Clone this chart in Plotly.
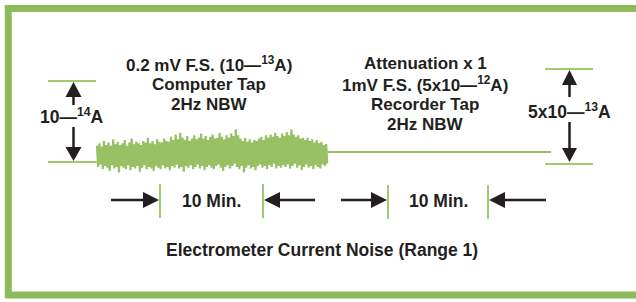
import numpy as np
import plotly.graph_objects as go

W, H = 636, 302

# ---------------- data ----------------
# Computer-tap record: upper / lower excursions of the noise band
# (current, in units of 1e-15 A), left part of the record
noise_duration_min = 22.35
noise_upper = [
    2.0, 2.3, 1.9, 2.6, 2.1, 2.4, 2.0, 2.8, 2.2, 2.5,
    2.1, 2.3, 2.7, 2.0, 2.4, 2.9, 2.2, 2.5, 2.3, 2.1,
    2.6, 2.4, 3.0, 2.3, 2.6, 2.2, 2.8, 2.5, 2.4, 2.9,
    2.6, 2.5, 3.1, 2.7, 3.4, 2.8, 3.6, 3.0, 2.7, 3.2,
    2.6, 2.9, 3.3, 2.8, 3.0, 3.5, 2.9, 3.2, 2.7, 3.1,
    3.4, 2.9, 3.0, 3.6, 3.1, 2.8, 3.3, 3.0, 3.5, 3.2,
    4.0, 3.3, 2.9, 2.6, 3.0, 2.5, 2.8, 2.4, 2.7, 2.6,
    2.9, 3.1, 2.7, 3.3, 3.0, 3.4, 3.1, 3.6, 3.2, 3.0,
    3.5, 3.2, 3.7, 3.3, 4.0, 3.4, 3.1, 3.3, 2.9, 3.0,
    2.7, 3.0, 2.6, 2.8, 2.4, 2.7, 2.3, 2.5, 2.1, 2.2,
]
noise_lower = [
    -0.6, -0.3, -0.9, -0.5, -0.7, -1.1, -0.4, -0.8, -0.6, -1.3,
    -0.5, -0.7, -0.9, -0.4, -1.0, -0.6, -0.8, -0.5, -1.2, -0.7,
    -0.4, -0.9, -0.6, -0.8, -1.1, -0.5, -0.7, -0.9, -0.4, -0.8,
    -0.6, -1.0, -0.5, -0.7, -0.3, -0.8, -0.6, -1.2, -0.5, -0.7,
    -0.4, -0.9, -0.6, -0.3, -0.8, -0.5, -1.0, -0.6, -0.4, -0.7,
    -0.9, -0.5, -0.3, -0.7, -1.1, -0.6, -0.4, -0.8, -0.5, -0.2,
    -0.6, -0.9, -0.5, -1.3, -0.7, -0.4, -0.8, -0.6, -1.0, -0.5,
    -0.3, -0.7, -0.5, -0.9, -0.4, -0.6, -0.2, -0.8, -0.5, -0.7,
    -0.4, -0.6, -0.3, -0.8, -0.5, -0.2, -0.7, -0.4, -1.0, -0.6,
    -0.3, -0.7, -0.5, -0.9, -0.4, -0.6, -0.8, -0.3, -0.5, -0.2,
]
# Recorder-tap record (attenuation x1): flat trace
flat_time = [22.35, 44.3]
flat_current = [1.23, 1.23]

# Texts
left_block = ["0.2 mV F.S. (10—<sup>13</sup>A)", "Computer Tap", "2Hz NBW"]
right_block = ["Attenuation x 1", "1mV F.S. (5x10—<sup>12</sup>A)", "Recorder Tap", "2Hz NBW"]
left_scale = "10—<sup>14</sup>A"
right_scale = "5x10—<sup>13</sup>A"
span_label = "10 Min."
caption = "Electrometer Current Noise (Range 1)"

# ---------------- styling / layout helpers ----------------
FRAME = "#8dbb5c"
TRACE = "#97c164"
MARK = "#a0c970"
INK = "#231f20"
FONT = "Liberation Sans"

# axis mapping: t=0 min at px 97, 10.25 px/min ; current 0 at px 162, 8.1 px per 1e-15 A
X0PX, XSCALE = 97.0, 10.25
Y0PX, YSCALE = 162.0, 8.1
xrange_ = [-X0PX / XSCALE, (W - X0PX) / XSCALE]
yrange_ = [(Y0PX - H) / YSCALE, Y0PX / YSCALE]

n = len(noise_upper)
t_up = np.linspace(0, noise_duration_min, n)
dt = t_up[1] - t_up[0]
t_lo = t_up + dt / 2
noise_t = np.empty(2 * n)
noise_v = np.empty(2 * n)
noise_t[0::2], noise_t[1::2] = t_up, t_lo
noise_v[0::2], noise_v[1::2] = noise_upper, noise_lower

fig = go.Figure()
fig.add_trace(go.Scatter(x=noise_t, y=noise_v, mode="lines",
                         line=dict(color=TRACE, width=2.2), hoverinfo="skip"))
fig.add_trace(go.Scatter(x=flat_time, y=flat_current, mode="lines",
                         line=dict(color=TRACE, width=2), hoverinfo="skip"))


def px(x):
    return x / W


def py(y):
    return 1 - y / H


shapes = []


def line(x0, y0, x1, y1, color, width):
    shapes.append(dict(type="line", xref="paper", yref="paper",
                       x0=px(x0), y0=py(y0), x1=px(x1), y1=py(y1),
                       line=dict(color=color, width=width), layer="above"))


def tri(pts):
    path = "M " + " L ".join(f"{px(a):.5f},{py(b):.5f}" for a, b in pts) + " Z"
    shapes.append(dict(type="path", xref="paper", yref="paper", path=path,
                       fillcolor=INK, line=dict(width=0), layer="above"))


def varrow(x, tail, tip, hl=15, hw=8):
    s = 1 if tip > tail else -1
    line(x, tail, x, tip - s * (hl - 1), INK, 2.5)
    tri([(x - hw, tip - s * hl), (x + hw, tip - s * hl), (x, tip)])


def harrow(y, tail, tip, hl=16, hw=8):
    s = 1 if tip > tail else -1
    line(tail, y, tip - s * (hl - 1), y, INK, 2.5)
    tri([(tip - s * hl, y - hw), (tip - s * hl, y + hw), (tip, y)])


# frame (right side runs off the picture)
shapes.append(dict(type="rect", xref="paper", yref="paper",
                   x0=px(8.3), y0=py(295), x1=px(W + 12), y1=py(8.5),
                   line=dict(color=FRAME, width=7), layer="below"))

# scale markers
line(48, 81, 96, 81, MARK, 2)
line(48, 162, 98, 162, MARK, 2)
varrow(73.5, 105, 82)
varrow(73.5, 127, 161, hl=14)
line(545, 69, 593, 69, MARK, 2)
line(545, 164, 593, 164, MARK, 2)
varrow(569.5, 97, 70, hw=7.5)
varrow(569.5, 122, 162, hl=14, hw=7.5)

# 10 min spans
line(160, 184, 160, 218, MARK, 2)
line(263, 184, 263, 218, MARK, 2)
line(388, 185, 388, 219, MARK, 2)
line(488, 185, 488, 219, MARK, 2)
harrow(200, 111, 159)
harrow(200, 315, 264)
harrow(200, 341, 387)
harrow(200, 546, 489)

annotations = []


def text(s, x, y, size=17.5):
    annotations.append(dict(text=s, x=px(x), y=py(y), xref="paper", yref="paper",
                            xanchor="center", yanchor="middle", showarrow=False,
                            borderpad=0,
                            font=dict(family=FONT, size=size, color=INK, weight="bold")))


for s, y in zip(left_block, [64, 84, 104]):
    text(s, 209, y, 17)
for s, y in zip(right_block, [64, 84, 104, 124]):
    text(s, 425, y, 17)
text(left_scale, 72, 116)
text(right_scale, 569, 111)
text(span_label, 211, 201)
text(span_label, 438, 201)
text(caption, 322, 250)

fig.update_layout(
    width=W, height=H, margin=dict(l=0, r=0, t=0, b=0),
    paper_bgcolor="white", plot_bgcolor="white", showlegend=False,
    xaxis=dict(range=xrange_, visible=False, fixedrange=True),
    yaxis=dict(range=yrange_, visible=False, fixedrange=True),
    shapes=shapes, annotations=annotations,
)

fig.write_html("out.html", post_script="document.body.style.margin='0';",
               config={"displayModeBar": False})
